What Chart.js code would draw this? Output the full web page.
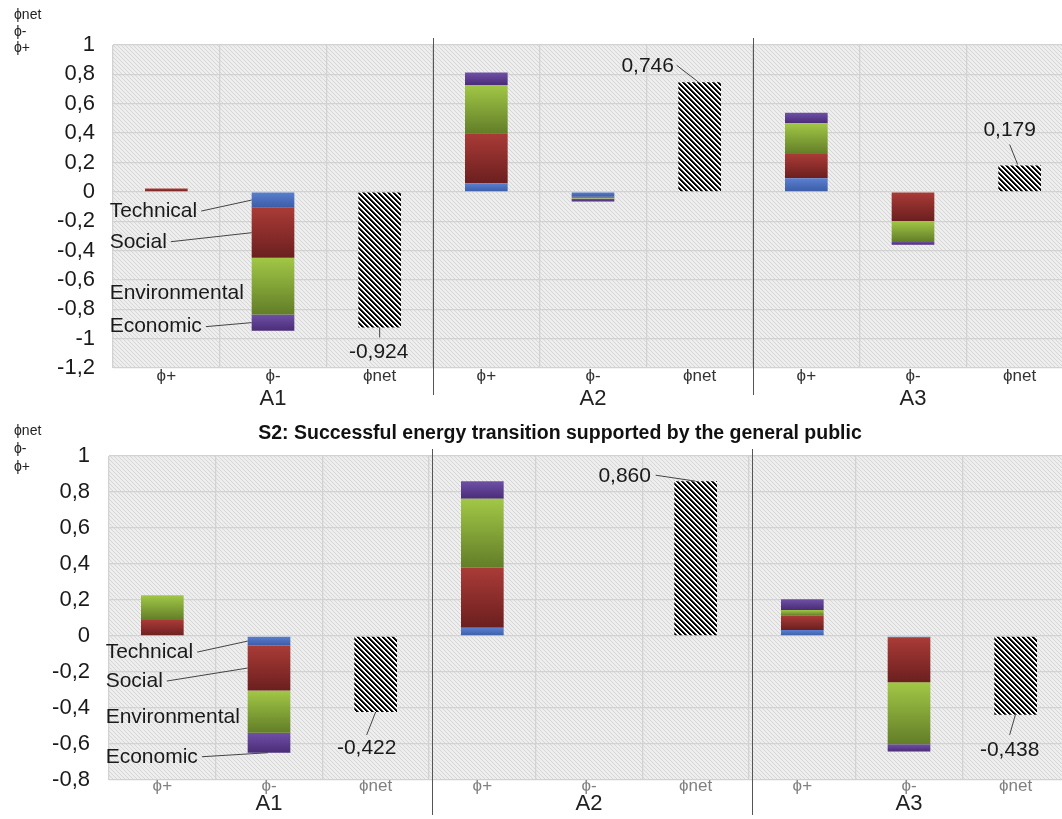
<!DOCTYPE html>
<html>
<head>
<meta charset="utf-8">
<script src="https://cdn.jsdelivr.net/npm/chart.js@4.4.1/dist/chart.umd.min.js"></script>
<style>
  html, body { margin: 0; padding: 0; background: #fff; overflow: hidden; }
  #wrap { position: relative; width: 1062px; height: 819px; overflow: hidden; font-family: "Liberation Sans", Arial, sans-serif; }
  canvas { position: absolute; left: 0; }
  #c1 { top: 0; }
  #c2 { top: 410px; }
  .stub { position: absolute; left: 14px; font-size: 14px; line-height: 16.5px; color: #222; }
  #title2 { position: absolute; left: 210px; width: 700px; top: 421px; line-height: 22px; text-align: center; font-weight: bold; font-size: 19.5px; color: #111; white-space: nowrap; }
</style>
</head>
<body>
<div id="wrap">
  <canvas id="c1" width="1080" height="410"></canvas>
  <canvas id="c2" width="1080" height="409"></canvas>
  <div class="stub" style="top:6px">ϕnet<br>ϕ-<br>ϕ+</div>
  <div class="stub" style="top:421px;line-height:18px">ϕnet<br>ϕ-<br>ϕ+</div>
  <div id="title2">S2: Successful energy transition supported by the general public</div>
</div>
<script>
// categories along x, three alternatives
const categories = ["ϕ+", "ϕ-", "ϕnet", "ϕ+", "ϕ-", "ϕnet", "ϕ+", "ϕ-", "ϕnet"];
const groups = ["A1", "A2", "A3"];
const criteria = ["Technical", "Social", "Environmental", "Economic"];

// top chart (S1)
const technical1     = [0,     -0.108, null, 0.058, -0.034, null, 0.092,  0,      null];
const social1        = [0.023, -0.341, null, 0.341, -0.006, null, 0.166, -0.198,  null];
const environmental1 = [0,     -0.386, null, 0.329, -0.006, null, 0.209, -0.143,  null];
const economic1      = [0,     -0.112, null, 0.084, -0.020, null, 0.072, -0.019,  null];
const net1           = [null, null, -0.924, null, null, 0.746, null, null, 0.179];

// bottom chart (S2)
const technical2     = [0,     -0.053, null, 0.046, 0, null, 0.033, -0.007, null];
const social2        = [0.089, -0.250, null, 0.334, 0, null, 0.080, -0.250, null];
const environmental2 = [0.137, -0.235, null, 0.382, 0, null, 0.032, -0.345, null];
const economic2      = [0,     -0.110, null, 0.098, 0, null, 0.059, -0.040, null];
const net2           = [null, null, -0.422, null, null, 0.860, null, null, -0.438];

const yTicks1 = { min: -1.2, max: 1, step: 0.2 };
const yTicks2 = { min: -0.8, max: 1, step: 0.2 };

const FONT = "'Liberation Sans', Arial, sans-serif";

const shades = {
  Technical: ["#5a80d0", "#3c5ca6"],
  Social: ["#aa3b37", "#6b1f1f"],
  Environmental: ["#a2c746", "#627e28"],
  Economic: ["#6f50a6", "#4a2c78"]
};

// crisp pixel hatch, stripes running top-left to bottom-right
function pixelHatch(size, colors) {
  const c = document.createElement("canvas");
  c.width = c.height = size;
  const x = c.getContext("2d");
  for (let py = 0; py < size; py++) {
    for (let px = 0; px < size; px++) {
      x.fillStyle = colors[((px - py) % size + size) % size];
      x.fillRect(px, py, 1, 1);
    }
  }
  return x.createPattern(c, "repeat");
}
const barHatch = pixelHatch(5, ["#000", "#000", "#555", "#fff", "#fff"]);
const plotHatch = pixelHatch(4, ["#d6d6d6", "#ededed", "#efefef", "#ededed"]);

// vertical gradient per stacked segment
function segGradient(chart, dsIndex, index, colors) {
  const ys = chart.scales.y;
  if (!chart.chartArea || !ys) return colors[0];
  const ds = chart.data.datasets;
  const v = ds[dsIndex].data[index];
  if (!v) return colors[0];
  let start = 0;
  for (let d = 0; d < dsIndex; d++) {
    const w = ds[d].data[index];
    if (w && Math.sign(w) === Math.sign(v)) start += w;
  }
  const p1 = ys.getPixelForValue(start), p2 = ys.getPixelForValue(start + v);
  const top = Math.min(p1, p2), bot = Math.max(p1, p2);
  if (bot - top < 1) return colors[0];
  const g = chart.ctx.createLinearGradient(0, top, 0, bot);
  g.addColorStop(0, colors[0]);
  g.addColorStop(1, colors[1]);
  return g;
}

const plotBg = {
  id: "plotBg",
  beforeDraw(chart) {
    const { ctx, chartArea: a } = chart;
    ctx.save();
    ctx.fillStyle = plotHatch;
    ctx.fillRect(a.left, a.top, a.width, a.height);
    ctx.restore();
  }
};

const groupAxis = {
  id: "groupAxis",
  afterDraw(chart, args, opts) {
    const { ctx, chartArea: a } = chart;
    const xs = chart.scales.x;
    ctx.save();
    ctx.fillStyle = "#222";
    ctx.font = "22px " + FONT;
    ctx.textAlign = "center";
    ctx.textBaseline = "middle";
    groups.forEach((g, i) => {
      const cx = (xs.getPixelForValue(3 * i) + xs.getPixelForValue(3 * i + 2)) / 2;
      ctx.fillText(g, cx, a.bottom + opts.labelGap);
    });
    ctx.strokeStyle = "#555";
    ctx.lineWidth = 1;
    for (let i = 0; i < groups.length - 1; i++) {
      const sx = Math.round((xs.getPixelForValue(3 * i + 2) + xs.getPixelForValue(3 * i + 3)) / 2) + opts.sepDx + 0.5;
      ctx.beginPath();
      ctx.moveTo(sx, a.top - 7);
      ctx.lineTo(sx, a.bottom + opts.sepExtra);
      ctx.stroke();
    }
    ctx.restore();
  }
};

const annot = {
  id: "annot",
  afterDatasetsDraw(chart, args, opts) {
    const ctx = chart.ctx;
    ctx.save();
    ctx.font = "21px " + FONT;
    ctx.fillStyle = "#1a1a1a";
    ctx.strokeStyle = "#444";
    ctx.lineWidth = 1;
    ctx.textBaseline = "middle";
    // criteria labels on the A1 phi- bar
    criteria.forEach((name, d) => {
      const bar = chart.getDatasetMeta(d).data[1];
      const mid = (bar.y + bar.base) / 2;
      const left = bar.x - bar.width / 2;
      const tx = left - 142, ty = mid + opts.segDy[d];
      ctx.textAlign = "left";
      ctx.fillText(name, tx, ty);
      const end = opts.segEnd[d];
      if (end) {
        const w = ctx.measureText(name).width;
        ctx.beginPath();
        ctx.moveTo(tx + w + 4, ty);
        ctx.lineTo(left + end[0], mid + end[1]);
        ctx.stroke();
      }
    });
    // net values
    const netMeta = chart.getDatasetMeta(4);
    const netData = chart.data.datasets[4].data;
    opts.net.forEach(n => {
      const bar = netMeta.data[n.idx];
      const ex = bar.x, ey = bar.y;
      ctx.textAlign = "center";
      ctx.fillText(netData[n.idx].toFixed(3).replace(".", ","), ex + n.tx, ey + n.ty);
      ctx.beginPath();
      ctx.moveTo(ex + n.l[0], ey + n.l[1]);
      ctx.lineTo(ex + n.l[2], ey + n.l[3]);
      ctx.stroke();
    });
    ctx.restore();
  }
};

function buildChart(canvasId, series, net, yt, layout, tickColor, annotOpts, groupOpts) {
  const datasets = criteria.map((name, d) => ({
    label: name,
    data: series[d],
    backgroundColor: c => segGradient(c.chart, d, c.dataIndex, shades[name]),
    borderWidth: 0,
    barPercentage: 0.4,
    categoryPercentage: 1
  }));
  datasets.push({
    label: "ϕnet",
    data: net,
    backgroundColor: barHatch,
    borderWidth: 0,
    barPercentage: 0.4,
    categoryPercentage: 1
  });
  return new Chart(document.getElementById(canvasId), {
    type: "bar",
    data: { labels: categories, datasets },
    options: {
      responsive: false,
      animation: false,
      layout: { padding: { top: layout.top, right: layout.right, left: 0, bottom: 0 } },
      scales: {
        x: {
          stacked: true,
          grid: { color: "#d2d2d2", lineWidth: 1.3, drawTicks: false },
          border: { display: false },
          ticks: { color: tickColor, font: { family: FONT, size: 17 }, padding: layout.xPad, autoSkip: false, maxRotation: 0 },
          afterFit: s => { s.height = layout.xHeight; }
        },
        y: {
          stacked: true,
          min: yt.min,
          max: yt.max,
          grid: { color: "#d2d2d2", lineWidth: 1.3, drawTicks: false },
          border: { display: false },
          ticks: {
            stepSize: yt.step,
            autoSkip: false,
            color: "#1a1a1a",
            font: { family: FONT, size: 22 },
            padding: layout.tickPad,
            callback: v => String(parseFloat(Number(v).toFixed(1))).replace(".", ",")
          },
          afterFit: s => { s.width = layout.left; }
        }
      },
      plugins: {
        legend: { display: false },
        tooltip: { enabled: false },
        annot: annotOpts,
        groupAxis: groupOpts
      }
    },
    plugins: [plotBg, groupAxis, annot]
  });
}

buildChart("c1",
  [technical1, social1, environmental1, economic1], net1, yTicks1,
  { top: 45, right: 7, left: 113, xHeight: 42, tickPad: 18, xPad: -2 },
  "#333",
  {
    segDy: [11, 9, 7, 4],
    segEnd: [[0, 0], [0, 0], null, [0, 0]],
    net: [
      { idx: 2, tx: -1, ty: 25, l: [0, 0, 0, 10] },
      { idx: 5, tx: -52, ty: -16, l: [-23, -17, -1, 0] },
      { idx: 8, tx: -10, ty: -35, l: [-10, -21, -2, -1] }
    ]
  },
  { labelGap: 31, sepExtra: 27, sepDx: 0 }
);

buildChart("c2",
  [technical2, social2, environmental2, economic2], net2, yTicks2,
  { top: 46, right: 11, left: 109, xHeight: 39, tickPad: 19, xPad: -4 },
  "#808080",
  {
    segDy: [11, 13, 6, 14],
    segEnd: [[0, 0], [0, 0], null, [20, 10]],
    net: [
      { idx: 2, tx: -9, ty: 36, l: [0, 0, -9, 23] },
      { idx: 5, tx: -71, ty: -5, l: [-40, -6, 0, 0] },
      { idx: 8, tx: -6, ty: 35, l: [0, -1, -6, 20] }
    ]
  },
  { labelGap: 24, sepExtra: 35, sepDx: 3 }
);
</script>
</body>
</html>
